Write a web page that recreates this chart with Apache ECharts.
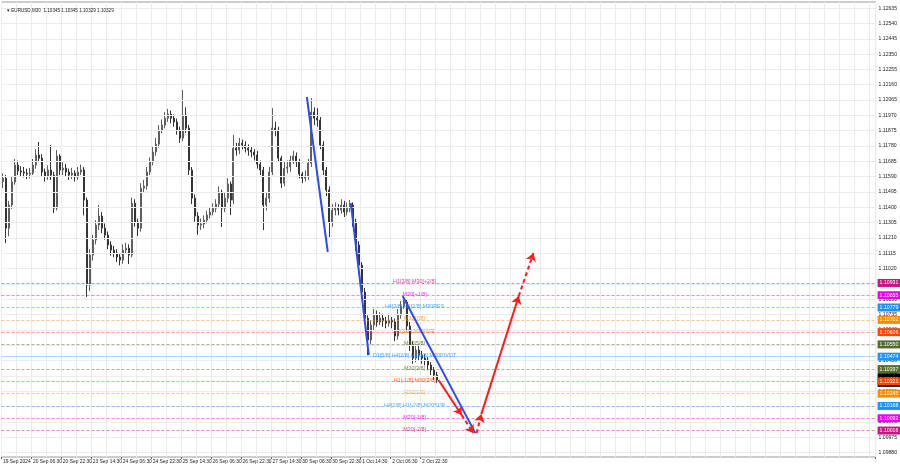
<!DOCTYPE html>
<html><head><meta charset="utf-8">
<script src="https://cdn.jsdelivr.net/npm/echarts@6/dist/echarts.min.js"></script>
<style>html,body{margin:0;padding:0;background:#fff}#c{width:900px;height:468px}</style>
</head><body><div id="c"></div><script>
// ---------- data ----------
const timeLabels = ['19 Sep 2024','20 Sep 06:30','20 Sep 22:30','23 Sep 14:30','24 Sep 06:30','24 Sep 22:30','25 Sep 14:30','26 Sep 06:30','26 Sep 22:30','27 Sep 14:30','30 Sep 06:30','30 Sep 22:30','1 Oct 14:30','2 Oct 06:30','2 Oct 22:30'];
const yTicks = [1.12635,1.12540,1.12445,1.12350,1.12255,1.12160,1.12065,1.11970,1.11875,1.11780,1.11685,1.11590,1.11495,1.11400,1.11305,1.11210,1.11115,1.11020,1.10925,1.10830,1.10735,1.10640,1.10545,1.10450,1.10355,1.10260,1.10165,1.10070,1.09975,1.09880];

const opens = [
1.11560,1.11581,1.11271,1.11414,1.11557,1.11662,1.11625,1.11619,1.11612,1.11606,
1.11612,1.11662,1.11724,1.11705,1.11619,1.11594,1.11631,1.11600,1.11395,1.11718,
1.11631,1.11643,1.11619,1.11600,1.11612,1.11588,1.11619,1.11631,1.11445,1.10918,
1.11104,1.11197,1.11290,1.11346,1.11271,1.11228,1.11166,1.11135,1.11116,1.11092,
1.11073,1.11135,1.11147,1.11104,1.11426,1.11309,1.11271,1.11519,1.11532,1.11619,
1.11681,1.11743,1.11792,1.11879,1.11910,1.11953,1.11978,1.11953,1.11929,1.11879,
1.11829,1.11972,1.11891,1.11631,1.11457,1.11346,1.11290,1.11296,1.11321,1.11352,
1.11371,1.11395,1.11420,1.11495,1.11395,1.11457,1.11544,1.11445,1.11767,1.11755,
1.11798,1.11786,1.11767,1.11755,1.11743,1.11724,1.11668,1.11631,1.11414,1.11457,
1.11619,1.11891,1.11879,1.11705,1.11550,1.11643,1.11650,1.11693,1.11718,1.11681,
1.11606,1.11581,1.11594,1.11674,1.11991,1.11953,1.11941,1.11786,1.11631,1.11507,
1.11309,1.11383,1.11395,1.11383,1.11414,1.11371,1.11395,1.11414,1.11309,1.11166,
1.11042,1.10875,1.10713,1.10577,1.10670,1.10732,1.10689,1.10713,1.10695,1.10682,
1.10701,1.10689,1.10602,1.10732,1.10788,1.10813,1.10664,1.10546,1.10465,1.10515,
1.10484,1.10465,1.10453,1.10422,1.10391,1.10360];
const closes = [
1.11581,1.11271,1.11414,1.11557,1.11662,1.11625,1.11619,1.11612,1.11606,1.11612,
1.11662,1.11724,1.11705,1.11619,1.11594,1.11631,1.11600,1.11395,1.11718,1.11631,
1.11643,1.11619,1.11600,1.11612,1.11588,1.11619,1.11631,1.11445,1.10918,1.11104,
1.11197,1.11290,1.11346,1.11271,1.11228,1.11166,1.11135,1.11116,1.11092,1.11073,
1.11135,1.11147,1.11104,1.11426,1.11309,1.11271,1.11519,1.11532,1.11619,1.11681,
1.11743,1.11792,1.11879,1.11910,1.11953,1.11978,1.11953,1.11929,1.11879,1.11829,
1.11972,1.11891,1.11631,1.11457,1.11346,1.11290,1.11296,1.11321,1.11352,1.11371,
1.11395,1.11420,1.11495,1.11395,1.11457,1.11544,1.11445,1.11767,1.11755,1.11798,
1.11786,1.11767,1.11755,1.11743,1.11724,1.11668,1.11631,1.11414,1.11457,1.11619,
1.11891,1.11879,1.11705,1.11550,1.11643,1.11650,1.11693,1.11718,1.11681,1.11606,
1.11581,1.11594,1.11674,1.11991,1.11953,1.11941,1.11786,1.11631,1.11507,1.11309,
1.11383,1.11395,1.11383,1.11414,1.11371,1.11395,1.11414,1.11309,1.11166,1.11042,
1.10875,1.10713,1.10577,1.10670,1.10732,1.10689,1.10713,1.10695,1.10682,1.10701,
1.10689,1.10602,1.10732,1.10788,1.10813,1.10664,1.10546,1.10465,1.10515,1.10484,
1.10465,1.10453,1.10422,1.10391,1.10360,1.10329];
const lows = [
1.11520,1.11178,1.11220,1.11390,1.11540,1.11600,1.11590,1.11585,1.11575,1.11580,
1.11600,1.11640,1.11680,1.11590,1.11560,1.11570,1.11570,1.11364,1.11380,1.11600,
1.11600,1.11590,1.11570,1.11575,1.11560,1.11570,1.11600,1.11350,1.10844,1.10880,
1.11070,1.11170,1.11260,1.11240,1.11200,1.11140,1.11100,1.11090,1.11060,1.11040,
1.11050,1.11110,1.11048,1.11090,1.11280,1.11222,1.11250,1.11490,1.11510,1.11600,
1.11660,1.11720,1.11770,1.11860,1.11890,1.11930,1.11920,1.11900,1.11850,1.11800,
1.11810,1.11860,1.11600,1.11420,1.11310,1.11230,1.11260,1.11270,1.11300,1.11330,
1.11350,1.11370,1.11400,1.11278,1.11370,1.11430,1.11352,1.11420,1.11720,1.11730,
1.11760,1.11740,1.11720,1.11710,1.11690,1.11640,1.11600,1.11259,1.11380,1.11430,
1.11600,1.11840,1.11680,1.11520,1.11530,1.11610,1.11620,1.11670,1.11650,1.11580,
1.11550,1.11560,1.11570,1.11650,1.11910,1.11900,1.11760,1.11600,1.11470,1.11216,
1.11280,1.11350,1.11350,1.11360,1.11340,1.11350,1.11370,1.11280,1.11130,1.11010,
1.10840,1.10680,1.10484,1.10550,1.10640,1.10660,1.10670,1.10660,1.10650,1.10660,
1.10650,1.10570,1.10580,1.10710,1.10770,1.10630,1.10510,1.10430,1.10440,1.10450,
1.10430,1.10420,1.10390,1.10360,1.10330,1.10310];
const highs = [
1.11610,1.11600,1.11440,1.11590,1.11700,1.11690,1.11655,1.11650,1.11640,1.11645,
1.11700,1.11760,1.11805,1.11730,1.11640,1.11660,1.11786,1.11620,1.11755,1.11730,
1.11680,1.11670,1.11640,1.11645,1.11630,1.11650,1.11665,1.11650,1.11460,1.11140,
1.11230,1.11320,1.11414,1.11370,1.11300,1.11250,1.11190,1.11160,1.11140,1.11110,
1.11170,1.11180,1.11170,1.11460,1.11450,1.11330,1.11550,1.11570,1.11650,1.11710,
1.11775,1.11830,1.11910,1.11945,1.11990,1.12010,1.12000,1.11975,1.11950,1.11900,
1.12127,1.12020,1.11910,1.11650,1.11480,1.11370,1.11330,1.11350,1.11380,1.11400,
1.11425,1.11450,1.11530,1.11510,1.11490,1.11580,1.11560,1.11848,1.11800,1.11830,
1.11820,1.11810,1.11790,1.11780,1.11760,1.11750,1.11690,1.11650,1.11490,1.11650,
1.12015,1.11930,1.11900,1.11720,1.11680,1.11690,1.11720,1.11750,1.11740,1.11700,
1.11620,1.11630,1.11700,1.12077,1.12020,1.12015,1.11960,1.11810,1.11650,1.11530,
1.11420,1.11430,1.11420,1.11450,1.11440,1.11430,1.11445,1.11430,1.11330,1.11190,
1.11060,1.10900,1.10730,1.10700,1.10770,1.10760,1.10750,1.10740,1.10720,1.10740,
1.10720,1.10710,1.10770,1.10820,1.10844,1.10830,1.10690,1.10570,1.10550,1.10540,
1.10510,1.10490,1.10470,1.10440,1.10410,1.10380];

const levelValues = [1.10931,1.10855,1.10779,1.10702,1.10626,1.10550,1.10474,1.10397,1.10321,1.10245,1.10168,1.10092,1.10016];
const levelNames = ['H1[3/8] M30[+2/8]','M30[+1/8]','H4[3/8] H1[2/8] M30RES','M30[7/8]','H1[1/8] M30[6/8]','M30[5/8]','D1[5/8] H4[2/8] H1[0/8] M30PIVOT','M30[3/8]','H1[-1/8] M30[2/8]','M30[1/8]','H4[1/8] H1[-2/8] M30SUP','M30[-1/8]','M30[-2/8]'];
const lastPrice = 1.10329;
const titleText = '\u25BE EURUSD,M30  1.10345 1.10345 1.10329 1.10329';

// trend lines [bar, price, bar, price]
const blueLines = [[101.5,1.12084,108.5,1.11123],[116.2,1.11426,122.2,1.10484],[133.5,1.10850,157.8,1.10000]];
// projection arrows [bar, price, bar, price, dashed]
const redArrows = [[145.5,1.10329,153.2,1.10112,0],[153.2,1.10112,157.2,1.10000,1],[158.2,1.10000,159.8,1.10118,1],[159.8,1.10118,172.3,1.10850,0],[172.3,1.10850,177.2,1.11116,1]];

// ---------- style ----------
const N_CATS = 292;
const LABEL_X = 137.5;
const FONT = '"Liberation Sans", sans-serif';
const LEVEL_COLORS = ['#c71585','#ee00ee','#1e90ff','#ff8c00','#ff4500','#556b2f','#1e90ff','#556b2f','#ff4500','#ff8c00','#1e90ff','#ee00ee','#c71585'];
const LEVEL_SOLID = [false,false,false,false,false,false,true,false,false,false,false,false,false];

function fade(hex, a) {
  const n = parseInt(hex.slice(1), 16);
  return 'rgba(' + (n >> 16 & 255) + ',' + (n >> 8 & 255) + ',' + (n & 255) + ',' + a + ')';
}

const cats = Array.from({length: N_CATS}, (_, i) => String(i));
const candleData = opens.map((o, i) => [o, closes[i], lows[i], highs[i]]);

const levelLines = levelValues.map((v, i) => ({
  yAxis: v,
  lineStyle: {color: fade(LEVEL_COLORS[i], LEVEL_SOLID[i] ? 0.35 : 0.5), type: LEVEL_SOLID[i] ? 'solid' : [3, 2], width: 1},
  label: {show: true, position: 'end', distance: 2, formatter: () => v.toFixed(5),
          backgroundColor: LEVEL_COLORS[i], color: '#fff', fontSize: 5.2, fontFamily: FONT, padding: [1.5, 2, 1.5, 2]}
}));
levelLines.splice(8, 0, {
  yAxis: lastPrice,
  lineStyle: {color: 'rgba(0,0,0,0)'},
  label: {show: true, position: 'end', distance: 2, formatter: () => lastPrice.toFixed(5),
          backgroundColor: '#000', color: '#fff', fontSize: 5.2, fontFamily: FONT, padding: [1.5, 2, 7, 2]}
});

const tickShown = (i) => i % 10 === 0 && i / 10 < timeLabels.length;

const option = {
  animation: false,
  backgroundColor: '#fff',
  title: {text: titleText, left: 2, top: 3, textStyle: {fontSize: 4.6, fontWeight: 'normal', color: '#222', fontFamily: FONT}},
  grid: {left: 1, right: 24, top: 2, bottom: 11, show: true, borderColor: '#9a9a9a', borderWidth: 1},
  xAxis: [{
    type: 'category', data: cats, boundaryGap: true,
    axisLine: {show: false},
    axisTick: {show: true, length: 2, interval: tickShown, lineStyle: {color: '#666'}},
    axisLabel: {interval: tickShown, showMinLabel: true, hideOverlap: false,
                formatter: (v, i) => timeLabels[i / 10] || '', align: 'left', margin: 2,
                fontSize: 4.9, color: '#222', fontFamily: FONT},
    splitLine: {show: true, interval: (i) => i % 5 === 0, lineStyle: {color: '#ececec', width: 1}}
  }, {
    type: 'value', min: -0.5, max: N_CATS - 0.5, show: false
  }],
  yAxis: {
    type: 'value', position: 'right', min: 1.09852, max: 1.12673,
    splitLine: {show: false}, axisLine: {show: false},
    axisTick: {show: false},
    axisLabel: {customValues: yTicks, formatter: (v) => v.toFixed(5), fontSize: 5.1, color: '#222', margin: 3, fontFamily: FONT}
  },
  series: [
    {
      name: 'grid', type: 'line', xAxisIndex: 1, data: [[0, yTicks[0]]], showSymbol: false, lineStyle: {opacity: 0}, silent: true,
      markLine: {silent: true, precision: 5, symbol: ['none', 'none'], label: {show: false},
                 lineStyle: {color: '#ececec', type: 'solid', width: 1},
                 data: yTicks.map(v => ({yAxis: v}))}
    },
    {
      name: 'levels', type: 'line', xAxisIndex: 1, data: [[0, levelValues[0]]], showSymbol: false, lineStyle: {opacity: 0}, silent: true,
      markLine: {silent: true, precision: 5, symbol: ['none', 'none'], data: levelLines}
    },
    {
      name: 'EURUSD', type: 'candlestick', xAxisIndex: 0, data: candleData, barWidth: 1.5,
      itemStyle: {color: '#5f5f5f', color0: '#353535', borderColor: '#5f5f5f', borderColor0: '#353535', borderWidth: 1}
    },
    {
      name: 'trend', type: 'line', xAxisIndex: 1, data: [[blueLines[0][0], blueLines[0][1]]], showSymbol: false, lineStyle: {opacity: 0}, silent: true,
      markLine: {silent: true, precision: 5, symbol: ['none', 'none'], label: {show: false},
                 lineStyle: {color: '#2d4cf0', width: 2, type: 'solid'},
                 data: blueLines.map(s => [{coord: [s[0], s[1]]}, {coord: [s[2], s[3]]}])}
    },
    {
      name: 'projection', type: 'line', xAxisIndex: 1, color: '#ff1a1a', data: [[redArrows[0][0], redArrows[0][1]]], showSymbol: false, lineStyle: {opacity: 0}, silent: true,
      markLine: {silent: true, precision: 5, symbol: ['none', 'arrow'], symbolSize: 8, label: {show: false},
                 itemStyle: {color: '#ff1a1a'},
                 lineStyle: {color: '#ff1a1a', width: 2},
                 data: redArrows.map(s => [
                   {coord: [s[0], s[1]], lineStyle: {color: '#ff1a1a', width: 2, type: s[4] ? [4, 3] : 'solid'}},
                   {coord: [s[2], s[3]]}
                 ])}
    },
    {
      name: 'levelText', type: 'scatter', xAxisIndex: 1, symbolSize: 1, itemStyle: {color: 'rgba(0,0,0,0)'}, silent: true,
      data: levelValues.map((v, i) => ({value: [LABEL_X, v], label: {color: LEVEL_COLORS[i]}})),
      label: {show: true, position: 'inside', offset: [0, -1], formatter: (p) => levelNames[p.dataIndex], fontSize: 5.4, fontFamily: FONT}
    }
  ]
};
const chart = echarts.init(document.getElementById('c'), null, {renderer: 'canvas'});
chart.setOption(option);
</script></body></html>
